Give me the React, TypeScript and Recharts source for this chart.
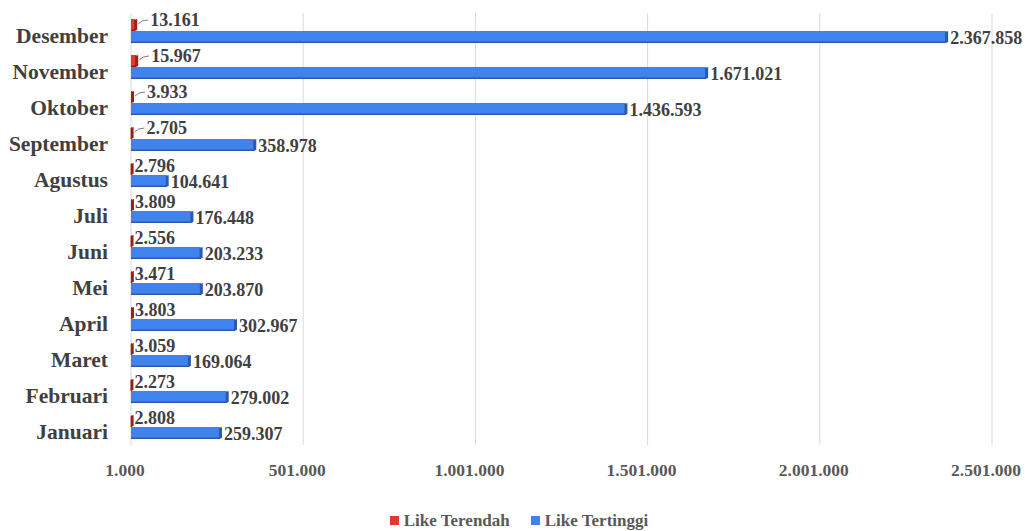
import React from "react";
import { BarChart, Bar, XAxis, YAxis, CartesianGrid, Legend, LabelList } from "recharts";

const months = ["Januari", "Februari", "Maret", "April", "Mei", "Juni", "Juli", "Agustus", "September", "Oktober", "November", "Desember"];
const likeTerendah = [2808, 2273, 3059, 3803, 3471, 2556, 3809, 2796, 2705, 3933, 15967, 13161];
const likeTertinggi = [259307, 279002, 169064, 302967, 203870, 203233, 176448, 104641, 358978, 1436593, 1671021, 2367858];
const xTicks = [1000, 501000, 1001000, 1501000, 2001000, 2501000];

const RED = "#E2392E";
const RED_DARK = "#9E1F17";
const BLUE = "#3F83EE";
const BLUE_DARK = "#2A5AAE";
const FONT = '"Liberation Serif", "Times New Roman", serif';

const data = months.map((m, i) => ({ month: m, terendah: likeTerendah[i], tertinggi: likeTertinggi[i] }));

const fmt = (n: number) => String(n).replace(/\B(?=(\d{3})+(?!\d))/g, ".");

// flat bar with a darker end cap and bottom edge, to mimic the 3D look
const bar3d = (color: string, dark: string) => (props: any) => {
  const { x, y, width, height } = props;
  const w = Math.max(width, 0);
  const d = 3;
  return (
    <g>
      <rect x={x} y={y} width={w} height={height} fill={color} />
      <rect x={x} y={y + height - 1.5} width={w} height={1.5} fill={dark} />
      <polygon
        points={`${x + w - 1},${y + 1} ${x + w + d - 1},${y} ${x + w + d - 1},${y + height - 1} ${x + w - 1},${y + height}`}
        fill={dark}
      />
    </g>
  );
};

const RedLabel = (p: any) => {
  const { x, y, width, height, value, index } = p;
  const end = x + width + 3;
  const cy = y + height / 2;
  if (index >= 8) {
    return (
      <g>
        <path d={`M${end},${cy - 1} Q${end + 3},${cy - 5} ${end + 10},${cy - 5}`} stroke="#808080" fill="none" strokeWidth={1} />
        <text x={end + 12} y={cy - 3} dominantBaseline="middle" fontSize={18} fontWeight="bold" fill="#404040" fontFamily={FONT}>
          {fmt(value)}
        </text>
      </g>
    );
  }
  return (
    <text x={end} y={cy - 1} dominantBaseline="middle" fontSize={18} fontWeight="bold" fill="#404040" fontFamily={FONT}>
      {fmt(value)}
    </text>
  );
};

const BlueLabel = (p: any) => {
  const { x, y, width, height, value } = p;
  return (
    <text x={x + width + 4} y={y + height / 2 + 3} dominantBaseline="middle" fontSize={18} fontWeight="bold" fill="#404040" fontFamily={FONT}>
      {fmt(value)}
    </text>
  );
};

const MonthTick = (p: any) => (
  <text x={p.x} y={p.y + 7} textAnchor="end" dominantBaseline="middle" fontSize={21.5} fontWeight="bold" fill="#404040" fontFamily={FONT}>
    {p.payload.value}
  </text>
);

const ValueTick = (p: any) => (
  <text x={p.x - 6} y={p.y + 25} textAnchor="middle" dominantBaseline="middle" fontSize={17.5} fontWeight="bold" fill="#595959" fontFamily={FONT}>
    {fmt(p.payload.value)}
  </text>
);

const LegendBox = () => (
  <div style={{ display: "flex", justifyContent: "center", alignItems: "flex-end", height: 46, paddingLeft: 46, fontFamily: FONT, fontSize: 17, fontWeight: "bold", color: "#595959" }}>
    <span style={{ display: "inline-block", width: 9, height: 9, background: RED, marginRight: 5, marginBottom: 6 }} />
    <span style={{ marginRight: 21 }}>Like Terendah</span>
    <span style={{ display: "inline-block", width: 9, height: 9, background: BLUE, marginRight: 5, marginBottom: 6 }} />
    <span>Like Tertinggi</span>
  </div>
);

export default function App() {
  return (
    <div style={{ position: "absolute", left: 0, top: 0, background: "#fff" }}>
      <BarChart width={1025} height={531} data={data} layout="vertical" margin={{ top: 13, right: 33, left: 0, bottom: 0 }} barSize={12} barGap={0}>
        <CartesianGrid horizontal={false} stroke="#d9d9d9" />
        <XAxis type="number" domain={[1000, 2501000]} ticks={xTicks} height={40} axisLine={false} tickLine={false} tickSize={0} tick={<ValueTick />} />
        <YAxis type="category" dataKey="month" reversed width={131} axisLine={false} tickLine={false} tickSize={0} tickMargin={23} tick={<MonthTick />} />
        <Legend verticalAlign="bottom" height={46} content={<LegendBox />} />
        <Bar dataKey="terendah" name="Like Terendah" fill={RED} shape={bar3d(RED, RED_DARK)} isAnimationActive={false}>
          <LabelList dataKey="terendah" content={<RedLabel />} />
        </Bar>
        <Bar dataKey="tertinggi" name="Like Tertinggi" fill={BLUE} shape={bar3d(BLUE, BLUE_DARK)} isAnimationActive={false}>
          <LabelList dataKey="tertinggi" content={<BlueLabel />} />
        </Bar>
      </BarChart>
    </div>
  );
}
